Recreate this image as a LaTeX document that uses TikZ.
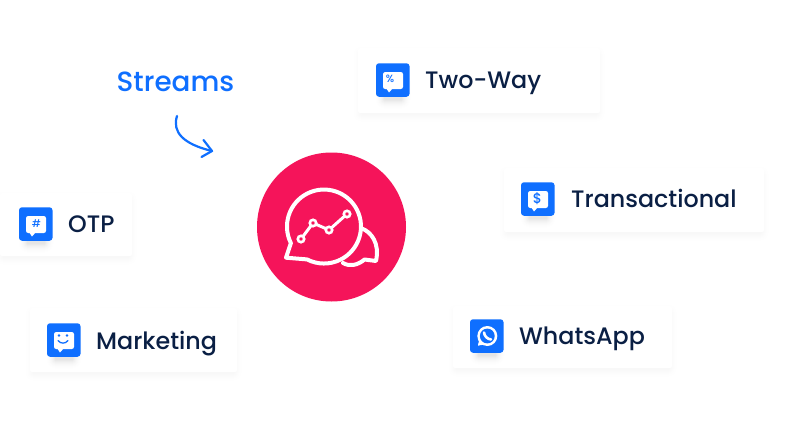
\documentclass[tikz,border=0pt]{standalone}
\usepackage{fontspec}
\setmainfont{Poppins}
\newfontfamily\labelfont{Poppins Medium}
\definecolor{brandblue}{HTML}{0F6FFF}
\definecolor{inkdark}{HTML}{0A1F44}
\definecolor{brandpink}{HTML}{F5145A}
\tikzset{
  cardbox/.style={fill=white,draw=none,inner sep=0pt,rounded corners=2pt},
  iconbox/.style={fill=brandblue,draw=none,rounded corners=3pt,minimum size=33.5pt,inner sep=0pt,outer sep=0pt},
  cardlabel/.style={anchor=base west,text=inkdark,inner sep=0pt,font=\labelfont\fontsize{23.8}{28}\selectfont},
  bubbleglyph/.style={text=brandblue,inner sep=0pt,font=\labelfont\fontsize{10.5}{11}\selectfont},
  logoline/.style={draw=white,line width=4pt,line cap=round,line join=round},
  streamline/.style={draw=brandblue,line width=2.2pt,line cap=round,line join=round},
}
% soft shadow from nested opaque greys: x1 y1 x2 y2 peak-percent spread
\newcommand{\softrect}[6]{%
  \foreach \i in {0,1,...,#6}{
    \pgfmathsetmacro{\s}{#6-\i}
    \pgfmathsetmacro{\pct}{#5*pow(\i/#6,2)}
    \fill[black!\pct!white,rounded corners={\s*1pt+1pt}]
      ({#1-\s},{#2-\s}) rectangle ({#3+\s},{#4+\s});
  }}
\newcommand{\card}[5]{% name x1 y1 x2 y2
  \softrect{#2+3}{#3+6}{#4-3}{#5+1}{3}{10}
  \node[cardbox,minimum width={(#4-#2)*1pt},minimum height={(#5-#3)*1pt}] (#1) at ({(#2+#4)/2},{(#3+#5)/2}) {};
}
\newcommand{\icon}[3]{% name x y (top-left)
  \softrect{#2+8}{#3+18}{#2+26}{#3+37}{10}{10}
  \node[iconbox] (#1) at ({#2+16.75},{#3+17}) {};
}
% white speech bubble in an icon, origin top-left of the icon
\newcommand{\chatbubble}[3]{%
  \fill[white,rounded corners=2.2pt] ({#2+7},{#3+9}) rectangle ({#2+27},{#3+26});
  \fill[white] ({#2+10},{#3+25}) -- ({#2+13},{#3+29.5}) -- ({#2+17},{#3+25}) -- cycle;
}
\begin{document}
\begin{tikzpicture}[x=1pt,y=-1pt]
\useasboundingbox (0,0) rectangle (801,426);
\fill[white] (0,0) rectangle (801,426);

\card{twoWayCard}{358}{48}{600}{113}
\card{transCard}{504}{168}{764}{232}
\card{whatsCard}{453}{306}{672}{368}
\card{otpCard}{0}{193}{132}{256}
\card{marketCard}{30}{308}{237}{372}

\icon{twoWayIcon}{376}{63}
\icon{transIcon}{521}{182}
\icon{whatsIcon}{470}{319}
\icon{otpIcon}{19}{207}
\icon{marketIcon}{47}{323}

\chatbubble{}{376}{63}
\node[bubbleglyph] (pct) at (390,78.5) {\%};
\chatbubble{}{521}{182}
\node[bubbleglyph,font=\labelfont\fontsize{14}{14}\selectfont] (dollar) at (537.5,199) {\$};
\chatbubble{}{19}{207}
\node[bubbleglyph] (hash) at (36.5,224) {\#};
\chatbubble{}{47}{323}
\fill[brandblue] (59,335.5) circle (1.4);
\fill[brandblue] (67,335.5) circle (1.4);
\draw[brandblue,line width=1.3pt,line cap=round] (58,340.5) .. controls (60.5,344) and (65.5,344) .. (68,340.5);
% WhatsApp glyph
\fill[white] (487.3,336) circle (10);
\fill[white] (478,345.5) -- (479.5,338) -- (485,344.5) -- cycle;
\fill[brandblue] (487.3,336) circle (7.4);
\fill[white] (478,345.5) -- (480,340) -- (483.5,343.8) -- cycle;
\draw[white,line width=2.6pt,line cap=round] (484,332.5) .. controls (484.5,336) and (487,339) .. (491,339.5);

\node[cardlabel] (twoWayText) at (425,88) {Two-Way};
\node[cardlabel] (transText) at (571,207.5) {Transactional};
\node[cardlabel] (whatsText) at (519,344) {WhatsApp};
\node[cardlabel] (otpText) at (68,232) {OTP};
\node[cardlabel] (marketText) at (96,349) {Marketing};

\node[anchor=base west,text=brandblue,inner sep=0pt,font=\labelfont\fontsize{27.8}{32}\selectfont] (streams) at (116.5,91) {Streams};

\coordinate (arrowStart) at (177,116);
\coordinate (arrowTip) at (212,151);
\coordinate (barbA) at (203.5,140);
\coordinate (barbB) at (201.5,157);
\draw[streamline] (arrowStart) .. controls (172,132) and (183,144) .. (arrowTip);
\draw[streamline] (barbA) -- (arrowTip) -- (barbB);

\node[circle,fill=brandpink,minimum size=149pt,inner sep=0pt] (hub) at (331.5,227) {};

% rear bubble
\draw[logoline] (362,228.5) .. controls (371,232) and (380,243) .. (376,261) -- (364.5,259.5) .. controls (358,265) and (350,267) .. (343,263);
% main speech bubble (y up inside this scope)
\begin{scope}[y=1pt,yshift=-426pt]
\draw[logoline,fill=brandpink] (286,168.3) -- (290.9,182.9) arc[start angle=206.6,end angle=-117.3,radius=37] -- cycle;
\end{scope}
% trend line
\coordinate (p1) at (301,239);
\coordinate (p2) at (313,223);
\coordinate (p3) at (329,230);
\coordinate (p4) at (347,214);
\draw[draw=white,line width=3pt,line join=round] (p1) -- (p2) -- (p3) -- (p4);
\foreach \p in {p1,p2,p3,p4}{
  \draw[draw=white,line width=2.6pt,fill=brandpink] (\p) circle (3.2);
}
\end{tikzpicture}
\end{document}
